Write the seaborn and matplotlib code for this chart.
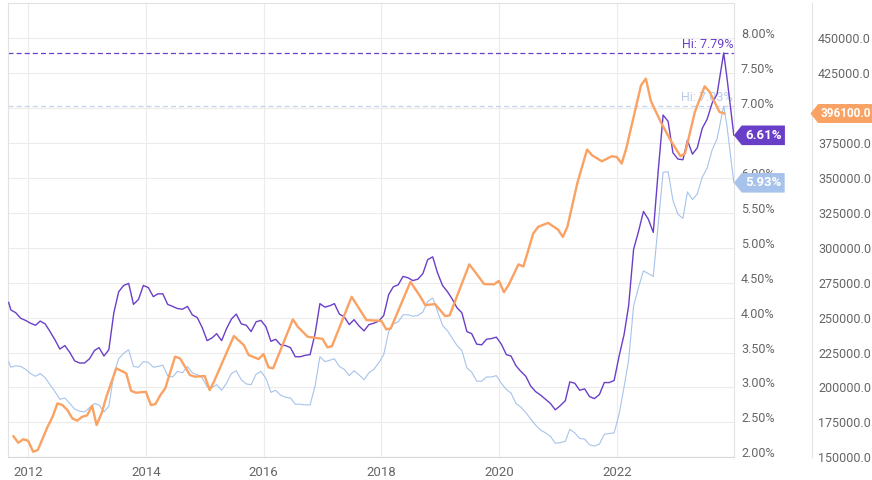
import pandas as pd
import numpy as np
import matplotlib.pyplot as plt
import seaborn as sns
from matplotlib.path import Path

# --- Data -------------------------------------------------------------
# 30-year and 15-year fixed mortgage rates (%), monthly with a few weekly points
rate_dates = (["2011-09-01"]
              + [d.strftime("%Y-%m-%d") for d in pd.date_range("2011-09-01", "2023-09-01", freq="MS") + pd.Timedelta(days=14)]
              + ["2023-10-26", "2023-11-15", "2023-12-28"])

rate_30y = [4.22,
            4.11, 4.07, 3.99, 3.96,
            3.92, 3.89, 3.95, 3.91, 3.80, 3.68, 3.55, 3.60, 3.50, 3.38, 3.35, 3.35,
            3.41, 3.53, 3.57, 3.45, 3.54, 4.07, 4.37, 4.46, 4.49, 4.19, 4.26, 4.46,
            4.43, 4.30, 4.34, 4.34, 4.19, 4.16, 4.13, 4.12, 4.16, 4.04, 4.00, 3.86,
            3.67, 3.71, 3.77, 3.67, 3.84, 3.98, 4.05, 3.91, 3.89, 3.80, 3.94, 3.96,
            3.87, 3.66, 3.69, 3.61, 3.60, 3.57, 3.44, 3.44, 3.46, 3.47, 3.77, 4.20,
            4.15, 4.17, 4.20, 4.05, 4.01, 3.90, 3.97, 3.88, 3.81, 3.90, 3.92, 3.95,
            4.03, 4.33, 4.44, 4.47, 4.59, 4.57, 4.53, 4.55, 4.63, 4.83, 4.87, 4.64,
            4.46, 4.37, 4.27, 4.14, 4.07, 3.80, 3.77, 3.62, 3.61, 3.69, 3.70, 3.72,
            3.62, 3.47, 3.45, 3.31, 3.23, 3.16, 3.02, 2.94, 2.89, 2.83, 2.77, 2.68,
            2.74, 2.81, 3.08, 3.06, 2.96, 2.98, 2.87, 2.84, 2.90, 3.07, 3.07, 3.10,
            3.45, 3.76, 4.17, 4.98, 5.23, 5.52, 5.41, 5.22, 6.11, 6.90, 6.81, 6.36,
            6.27, 6.26, 6.54, 6.34, 6.43, 6.71, 6.84, 7.07, 7.20,
            7.79, 7.44, 6.61]

rate_15y = [3.37,
            3.29, 3.31, 3.30, 3.26,
            3.20, 3.16, 3.20, 3.14, 3.04, 2.94, 2.83, 2.85, 2.77, 2.69, 2.66, 2.65,
            2.71, 2.77, 2.75, 2.65, 2.73, 3.19, 3.41, 3.49, 3.54, 3.30, 3.29, 3.37,
            3.36, 3.29, 3.30, 3.32, 3.17, 3.15, 3.23, 3.21, 3.30, 3.21, 3.18, 3.14,
            3.01, 3.00, 3.04, 2.96, 3.06, 3.20, 3.24, 3.11, 3.05, 3.04, 3.19, 3.23,
            3.13, 2.93, 2.96, 2.89, 2.86, 2.85, 2.76, 2.76, 2.75, 2.75, 3.02, 3.44,
            3.37, 3.39, 3.41, 3.30, 3.26, 3.17, 3.24, 3.18, 3.11, 3.21, 3.26, 3.35,
            3.47, 3.80, 3.91, 3.94, 4.04, 4.04, 4.02, 4.03, 4.08, 4.23, 4.28, 4.09,
            3.89, 3.81, 3.71, 3.60, 3.53, 3.28, 3.22, 3.09, 3.09, 3.15, 3.15, 3.17,
            3.06, 2.97, 2.92, 2.77, 2.72, 2.64, 2.55, 2.46, 2.39, 2.35, 2.30, 2.20,
            2.21, 2.23, 2.40, 2.35, 2.27, 2.26, 2.18, 2.16, 2.19, 2.33, 2.34, 2.35,
            2.62, 3.01, 3.39, 4.17, 4.43, 4.67, 4.63, 4.59, 5.35, 6.08, 6.09, 5.68,
            5.48, 5.42, 5.80, 5.69, 5.77, 6.01, 6.14, 6.40, 6.56,
            7.03, 6.75, 5.93]

# Median home sales price (month end)
price_months = ["2011-09", "2011-10", "2011-11", "2011-12", "2012-01", "2012-02", "2012-04", "2012-05",
                "2012-06", "2012-07", "2012-08", "2012-09", "2012-10", "2012-11", "2012-12", "2013-01",
                "2013-02", "2013-03", "2013-04", "2013-06", "2013-08", "2013-09", "2013-10", "2013-12",
                "2014-01", "2014-02", "2014-03", "2014-04", "2014-06", "2014-07", "2014-09", "2014-10",
                "2014-12", "2015-01", "2015-02", "2015-06", "2015-08", "2015-09", "2015-11", "2015-12",
                "2016-01", "2016-02", "2016-06", "2016-07", "2016-09", "2016-12", "2017-01", "2017-02",
                "2017-06", "2017-09", "2017-12", "2018-01", "2018-02", "2018-06", "2018-08", "2018-09",
                "2018-11", "2019-01", "2019-02", "2019-06", "2019-07", "2019-09", "2019-11", "2019-12",
                "2020-01", "2020-02", "2020-04", "2020-05", "2020-07", "2020-08", "2020-10", "2020-12",
                "2021-01", "2021-02", "2021-04", "2021-06", "2021-07", "2021-09", "2021-11", "2021-12",
                "2022-01", "2022-02", "2022-05", "2022-06", "2022-07", "2022-09", "2022-11", "2023-01",
                "2023-02", "2023-04", "2023-06", "2023-07", "2023-09", "2023-10"]
price_values = [165200, 160400, 162900, 161900, 154000, 155200, 171900, 179000,
                188600, 187400, 183800, 177900, 176200, 179000, 180000, 186900,
                173100, 181500, 193400, 213700, 210100, 197600, 196200, 196900,
                187400, 188100, 194600, 199400, 222000, 220800, 208900, 207700,
                208200, 198100, 204600, 236800, 230300, 223200, 220300, 223900,
                214400, 213700, 248700, 243400, 236300, 234800, 228700, 229600,
                264900, 248200, 247700, 241600, 242300, 275600, 264900, 258900,
                259700, 251100, 251600, 288100, 283500, 274000, 273800, 276300,
                268200, 273300, 288100, 286600, 310200, 315000, 317800, 313100,
                307800, 315000, 346000, 370300, 366200, 361900, 365500, 365000,
                360300, 371000, 416300, 421100, 405100, 390100, 377000, 365500,
                367500, 397200, 415600, 411500, 397200, 396100]

year_ticks = [2012, 2014, 2016, 2018, 2020, 2022]

PURPLE = "#6a3fc8"
BLUE = "#a7c3eb"
ORANGE = "#f9a263"
GRID = "#ececec"
TICK = "#666666"

df_rates = pd.DataFrame({"date": pd.to_datetime(rate_dates), "r30": rate_30y, "r15": rate_15y})
df_price = pd.DataFrame({"date": pd.to_datetime(price_months) + pd.offsets.MonthEnd(0), "price": price_values})

# --- Plot -------------------------------------------------------------
sns.set_theme(style="white")
plt.rcParams["font.family"] = ["Roboto", "DejaVu Sans"]

fig = plt.figure(figsize=(8.72, 4.8), dpi=100)
ax = fig.add_axes([8.3 / 872, 1 - 457.3 / 480, (734 - 8.3) / 872, 454 / 480])

sns.lineplot(data=df_rates, x="date", y="r15", ax=ax, color=BLUE, linewidth=0.8, zorder=3)
sns.lineplot(data=df_rates, x="date", y="r30", ax=ax, color=PURPLE, linewidth=1.0, zorder=4)

hi30 = max(rate_30y)
hi15 = max(rate_15y)
ax.axhline(hi30, color=PURPLE, lw=0.9, ls=(0, (4, 2.5)), zorder=2)
ax.axhline(hi15, color="#c3d3ea", lw=0.9, ls=(0, (4, 2.5)), zorder=2)
ax.annotate(f"Hi: {hi30:.2f}%", xy=(1, hi30), xycoords=("axes fraction", "data"),
            xytext=(-1, 5), textcoords="offset pixels", ha="right", va="baseline",
            color=PURPLE, fontsize=9, zorder=1)
ax.annotate(f"Hi: {hi15:.2f}%", xy=(1, hi15), xycoords=("axes fraction", "data"),
            xytext=(-1, 5), textcoords="offset pixels", ha="right", va="baseline",
            color="#b6cbe9", fontsize=9, zorder=1)

ax.set_xlim(pd.Timestamp("2011-08-30"), pd.Timestamp("2023-12-29"))
ax.set_ylim(2, 8.5)
ax.set_xticks([pd.Timestamp(f"{y}-01-01") for y in year_ticks])
ax.set_xticklabels([str(y) for y in year_ticks])
ax.grid(True, color=GRID, lw=0.8)
ax.set_xlabel("")
ax.set_ylabel("")
for s in ax.spines.values():
    s.set_color("#e2e2e2")
    s.set_linewidth(0.8)
ax.spines["bottom"].set_color("#d8d8d8")

ax2 = ax.twinx()
sns.lineplot(data=df_price, x="date", y="price", ax=ax2, color=ORANGE, linewidth=1.7)
ax2.set_ylim(150000, 475000)
ax2.set_yticks(np.arange(150000, 450001, 25000))
ax2.set_yticklabels([f"{v:.1f}" for v in np.arange(150000, 450001, 25000)])
plt.setp(ax2.get_yticklabels(), va="baseline")
ax2.tick_params(axis="y", length=0, pad=4.3, labelsize=9, labelcolor=TICK)
ax2.set_ylabel("")
ax2.spines["right"].set_position(("outward", 78 * 0.72))
ax2.spines["right"].set_color("#e2e2e2")
ax2.spines["right"].set_linewidth(0.8)
for k in ["left", "top", "bottom"]:
    ax2.spines[k].set_visible(False)

# percent axis sits on the right of the plot area (twinx moved it left)
ax.yaxis.tick_right()
ax.set_yticks(np.arange(2, 8.01, 0.5))
ax.set_yticklabels([f"{v:.2f}%" for v in np.arange(2, 8.01, 0.5)])
plt.setp(ax.get_yticklabels(), va="baseline")
ax.tick_params(axis="x", length=0, pad=6, labelsize=9.5, labelcolor=TICK)
ax.tick_params(axis="y", length=0, pad=5, labelsize=9, labelcolor=TICK)


# tag-shaped label box pointing to the axis
def tag(x0, y0, width, height, mutation_size):
    pad = 0.25 * mutation_size
    x0, y0 = x0 - pad, y0 - pad
    w, h = width + 2 * pad, height + 2 * pad
    tip = 0.4 * h
    return Path([(x0, y0), (x0 + w, y0), (x0 + w, y0 + h), (x0, y0 + h),
                 (x0 - tip, y0 + h / 2), (x0, y0)], closed=True)


ax.annotate(f"{rate_30y[-1]:.2f}%", xy=(1, rate_30y[-1]), xycoords=("axes fraction", "data"),
            xytext=(11, 0), textcoords="offset pixels", ha="left", va="center",
            color="white", fontsize=9.5, fontweight="bold", annotation_clip=False, zorder=10,
            bbox=dict(boxstyle=tag, fc=PURPLE, ec="none"))
ax.annotate(f"{rate_15y[-1]:.2f}%", xy=(1, rate_15y[-1]), xycoords=("axes fraction", "data"),
            xytext=(11, 0), textcoords="offset pixels", ha="left", va="center",
            color="white", fontsize=9.5, fontweight="bold", annotation_clip=False, zorder=10,
            bbox=dict(boxstyle=tag, fc=BLUE, ec="none"))
ax2.annotate(f"{price_values[-1]:.1f}", xy=(1, price_values[-1]), xycoords=("axes fraction", "data"),
             xytext=(87, 0), textcoords="offset pixels", ha="left", va="center",
             color="white", fontsize=8.5, fontweight="bold", annotation_clip=False, zorder=10,
             bbox=dict(boxstyle=tag, fc=ORANGE, ec="none", mutation_scale=12.5))

fig.savefig("out.png", dpi=100)
